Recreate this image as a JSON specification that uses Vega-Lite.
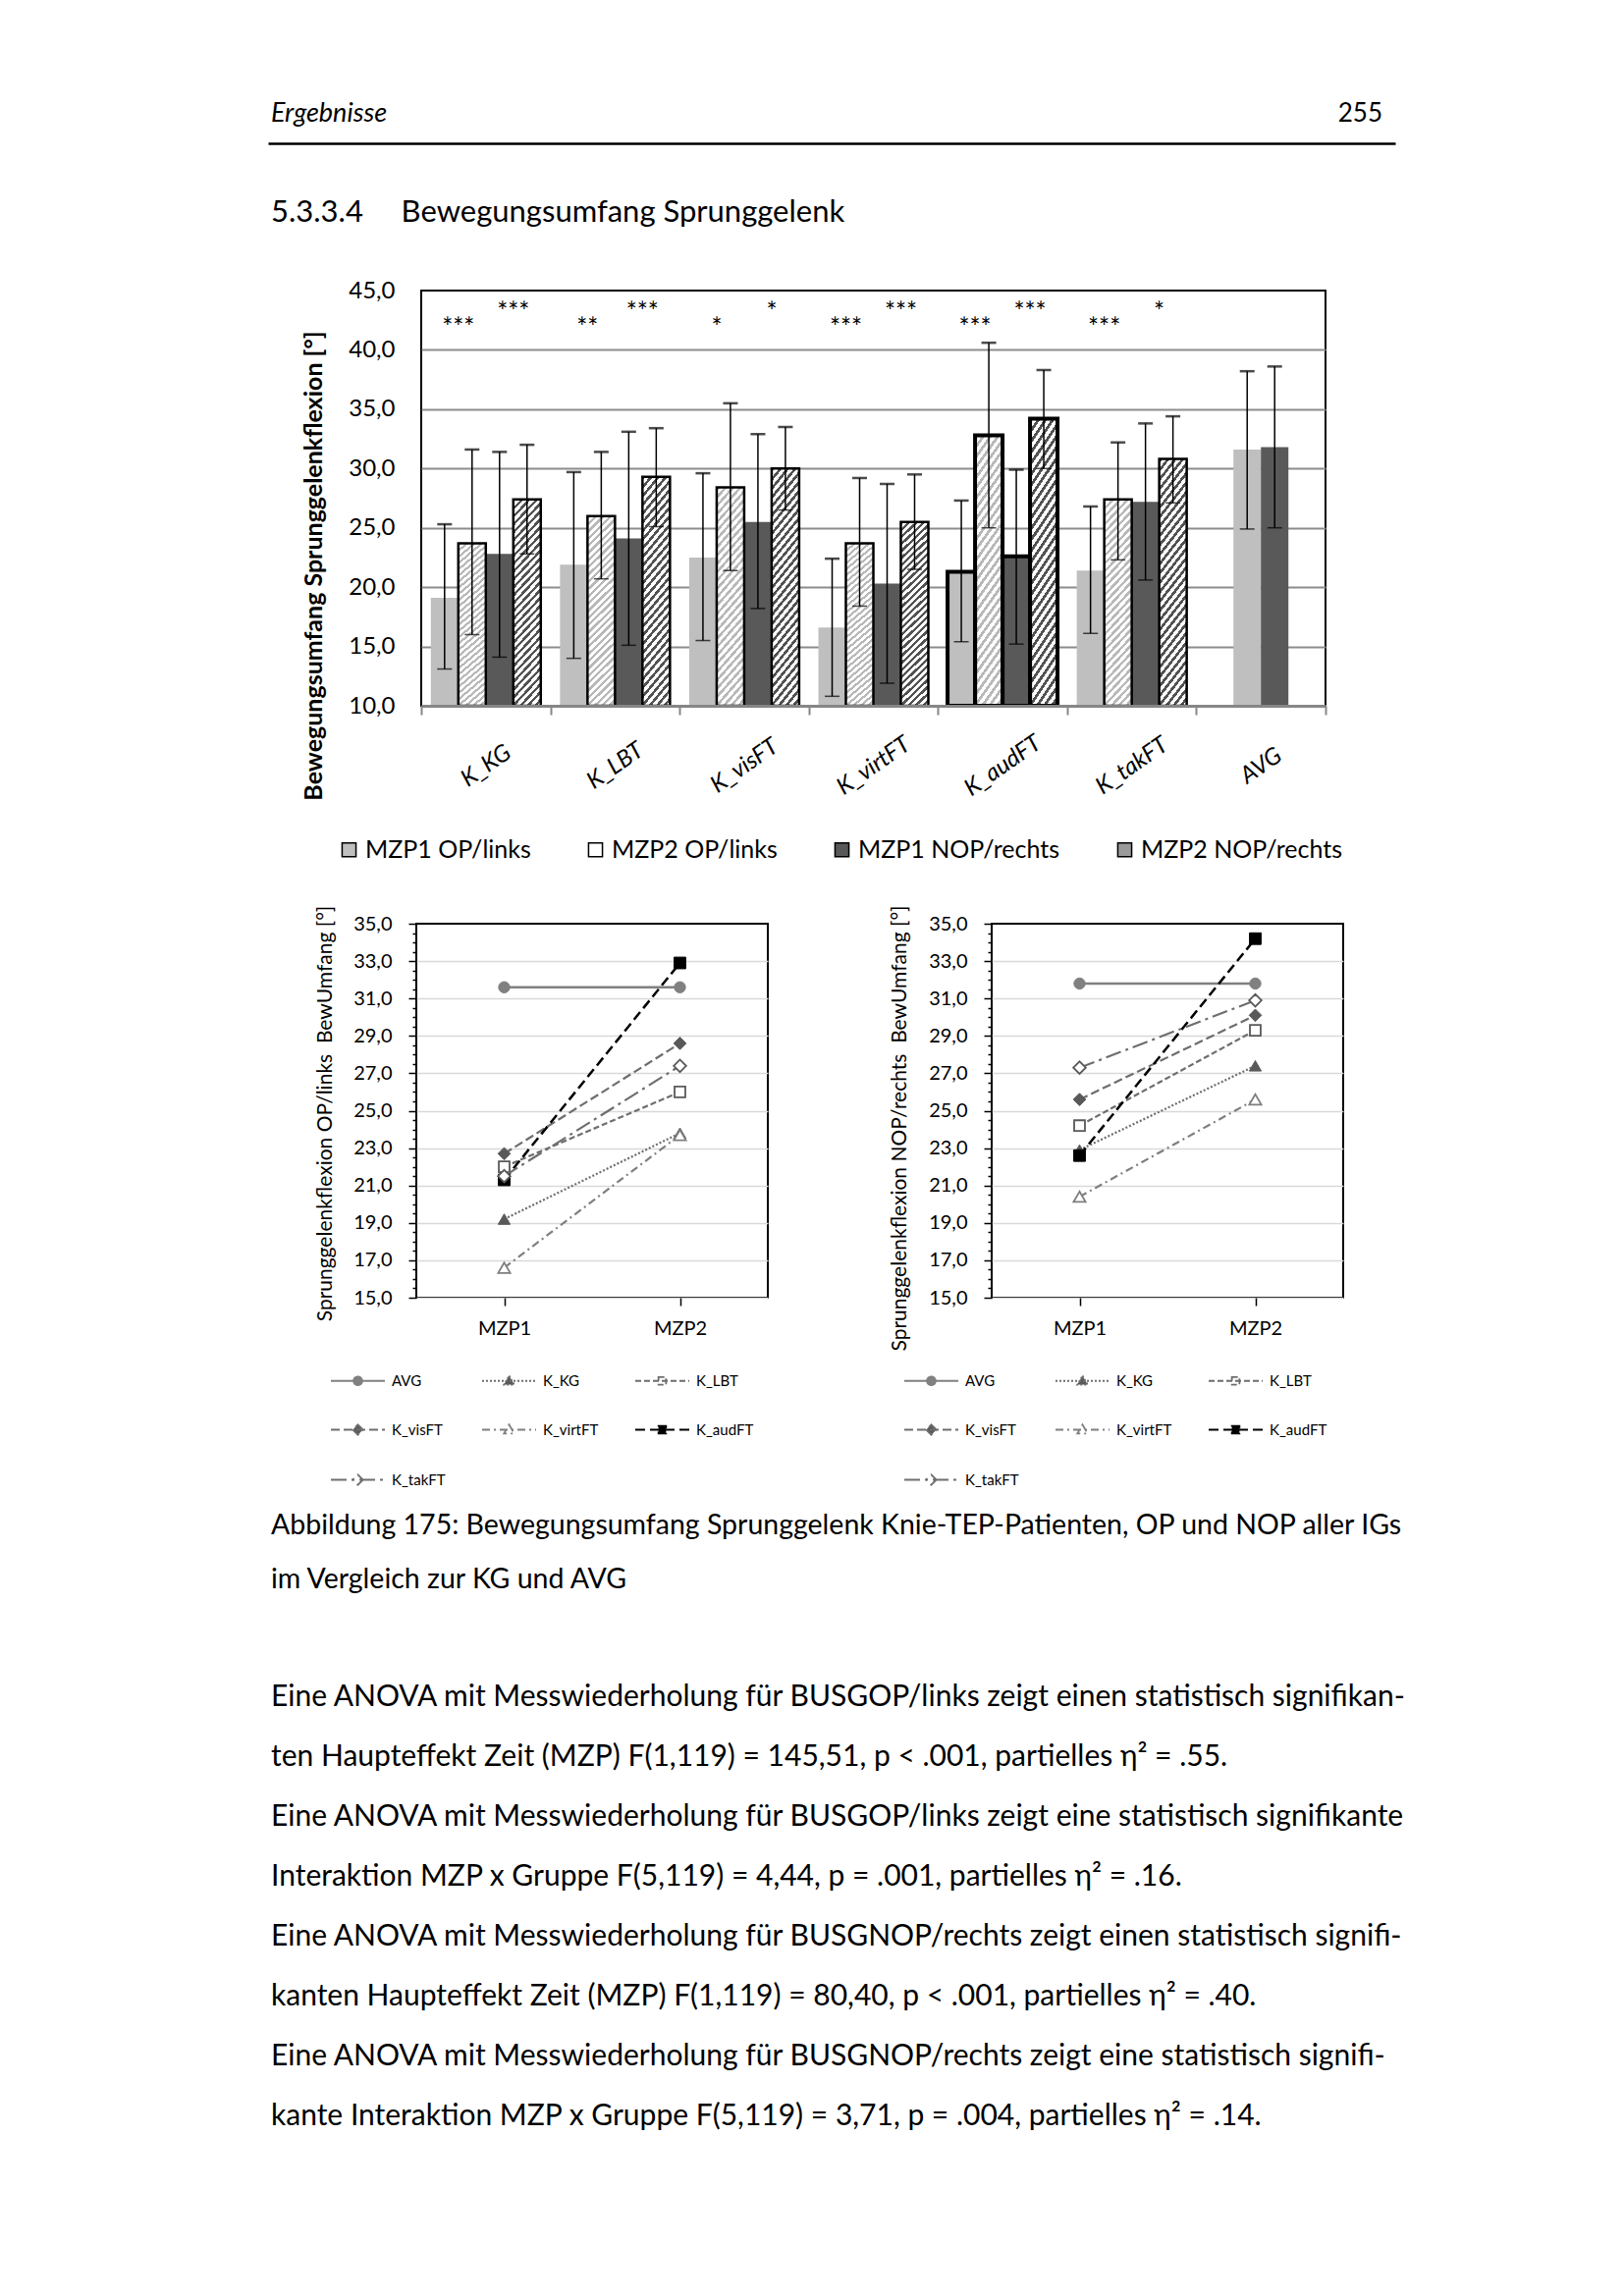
{
  "$schema": "https://vega.github.io/schema/vega-lite/v6.json",
  "background": "white",
  "padding": {"left": 273, "top": 86, "right": 10, "bottom": 10},
  "config": {
    "view": {"stroke": null},
    "font": "Lato",
    "axis": {"labelColor": "#000", "titleColor": "#000", "labelFont": "Lato", "titleFont": "Lato"},
    "legend": {"labelColor": "#000", "labelFont": "Lato", "labelLimit": 400},
    "text": {"font": "Lato", "color": "#000"}
  },
  "spacing": 0,
  "resolve": {
    "scale": {"fill": "independent", "stroke": "independent", "shape": "independent", "strokeDash": "independent", "opacity": "independent"},
    "legend": {"fill": "independent", "stroke": "independent", "shape": "independent", "strokeDash": "independent"}
  },
  "vconcat": [
    {
      "width": 1148, "height": 60,
      "data": {"values": [{"pos": "links", "text": "Ergebnisse"}, {"pos": "rechts", "text": "255"}]},
      "encoding": {
        "x": {"field": "pos", "type": "nominal", "scale": {"type": "point", "domain": ["links", "rechts"], "padding": 0},
              "axis": {"orient": "bottom", "domain": true, "domainColor": "#000", "domainWidth": 2.5, "ticks": false, "labels": false, "grid": false, "title": null}},
        "text": {"field": "text"}
      },
      "layer": [
        {"transform": [{"filter": "datum.pos === 'links'"}], "mark": {"type": "text", "align": "left", "dx": 3, "fontSize": 27, "fontStyle": "italic"}},
        {"transform": [{"filter": "datum.pos === 'rechts'"}], "mark": {"type": "text", "align": "right", "dx": -13, "fontSize": 26}}
      ]
    },
    {
      "width": 1148, "height": 137,
      "data": {"values": [{"text": "5.3.3.4\u2003\u2002Bewegungsumfang Sprunggelenk"}]},
      "mark": {"type": "text", "align": "left", "dx": 3, "dy": 2, "fontSize": 31},
      "encoding": {
        "x": {"datum": 0, "type": "quantitative", "scale": {"domain": [0, 1]}, "axis": null},
        "text": {"field": "text"}
      }
    },
    {
      "spacing": 0,
      "bounds": "flush",
      "resolve": {
        "scale": {"fill": "independent", "stroke": "independent", "opacity": "independent"},
        "legend": {"fill": "independent", "stroke": "independent"}
      },
      "hconcat": [
        {"width": 156, "height": 624, "data": {"values": []}, "mark": "text"},
        {
          "width": 921, "height": 423,
          "view": {"stroke": "#000", "strokeWidth": 2},
          "encoding": {
            "x": {"field": "gruppe", "type": "nominal", "sort": null,
                  "scale": {"domain": ["K_KG", "K_LBT", "K_visFT", "K_virtFT", "K_audFT", "K_takFT", "AVG"], "paddingInner": 0, "paddingOuter": 0},
                  "axis": {"orient": "bottom", "tickBand": "extent", "ticks": true, "tickSize": 9, "tickColor": "#868686", "tickWidth": 2,
                           "domain": true, "domainColor": "#868686", "domainWidth": 3, "labelAngle": -35, "labelAlign": "center", "labelBaseline": "middle",
                           "labelPadding": 52, "labelFontSize": 24, "labelFontStyle": "italic", "title": null, "grid": false, "zindex": 1}},
            "xOffset": {"field": "slot", "type": "nominal", "scale": {"domain": ["1", "2", "3", "4"], "paddingInner": 0, "paddingOuter": 0.35}}
          },
          "layer": [
            {
              "data": {"values": [
                {"gruppe": "K_KG", "reihe": "MZP1 OP/links", "slot": "1", "mw": 19.1, "lo": 13.1, "hi": 25.3},
                {"gruppe": "K_KG", "reihe": "MZP2 OP/links", "slot": "2", "mw": 23.7, "lo": 16.0, "hi": 31.6},
                {"gruppe": "K_KG", "reihe": "MZP1 NOP/rechts", "slot": "3", "mw": 22.8, "lo": 14.1, "hi": 31.4},
                {"gruppe": "K_KG", "reihe": "MZP2 NOP/rechts", "slot": "4", "mw": 27.4, "lo": 22.8, "hi": 32.0},
                {"gruppe": "K_LBT", "reihe": "MZP1 OP/links", "slot": "1", "mw": 21.9, "lo": 14.0, "hi": 29.7},
                {"gruppe": "K_LBT", "reihe": "MZP2 OP/links", "slot": "2", "mw": 26.0, "lo": 20.7, "hi": 31.4},
                {"gruppe": "K_LBT", "reihe": "MZP1 NOP/rechts", "slot": "3", "mw": 24.1, "lo": 15.1, "hi": 33.1},
                {"gruppe": "K_LBT", "reihe": "MZP2 NOP/rechts", "slot": "4", "mw": 29.3, "lo": 25.1, "hi": 33.4},
                {"gruppe": "K_visFT", "reihe": "MZP1 OP/links", "slot": "1", "mw": 22.5, "lo": 15.5, "hi": 29.6},
                {"gruppe": "K_visFT", "reihe": "MZP2 OP/links", "slot": "2", "mw": 28.4, "lo": 21.4, "hi": 35.5},
                {"gruppe": "K_visFT", "reihe": "MZP1 NOP/rechts", "slot": "3", "mw": 25.5, "lo": 18.2, "hi": 32.9},
                {"gruppe": "K_visFT", "reihe": "MZP2 NOP/rechts", "slot": "4", "mw": 30.0, "lo": 26.5, "hi": 33.5},
                {"gruppe": "K_virtFT", "reihe": "MZP1 OP/links", "slot": "1", "mw": 16.6, "lo": 10.8, "hi": 22.4},
                {"gruppe": "K_virtFT", "reihe": "MZP2 OP/links", "slot": "2", "mw": 23.7, "lo": 18.4, "hi": 29.2},
                {"gruppe": "K_virtFT", "reihe": "MZP1 NOP/rechts", "slot": "3", "mw": 20.3, "lo": 11.9, "hi": 28.7},
                {"gruppe": "K_virtFT", "reihe": "MZP2 NOP/rechts", "slot": "4", "mw": 25.5, "lo": 21.5, "hi": 29.5},
                {"gruppe": "K_audFT", "reihe": "MZP1 OP/links", "slot": "1", "mw": 21.3, "lo": 15.4, "hi": 27.3},
                {"gruppe": "K_audFT", "reihe": "MZP2 OP/links", "slot": "2", "mw": 32.8, "lo": 25.0, "hi": 40.6},
                {"gruppe": "K_audFT", "reihe": "MZP1 NOP/rechts", "slot": "3", "mw": 22.6, "lo": 15.2, "hi": 29.9},
                {"gruppe": "K_audFT", "reihe": "MZP2 NOP/rechts", "slot": "4", "mw": 34.2, "lo": 30.0, "hi": 38.3},
                {"gruppe": "K_takFT", "reihe": "MZP1 OP/links", "slot": "1", "mw": 21.4, "lo": 16.1, "hi": 26.8},
                {"gruppe": "K_takFT", "reihe": "MZP2 OP/links", "slot": "2", "mw": 27.4, "lo": 22.3, "hi": 32.2},
                {"gruppe": "K_takFT", "reihe": "MZP1 NOP/rechts", "slot": "3", "mw": 27.2, "lo": 20.6, "hi": 33.8},
                {"gruppe": "K_takFT", "reihe": "MZP2 NOP/rechts", "slot": "4", "mw": 30.8, "lo": 27.1, "hi": 34.4},
                {"gruppe": "AVG", "reihe": "MZP1 OP/links", "slot": "2", "mw": 31.6, "lo": 24.9, "hi": 38.2},
                {"gruppe": "AVG", "reihe": "MZP1 NOP/rechts", "slot": "3", "mw": 31.8, "lo": 25.0, "hi": 38.6}
              ]},
              "encoding": {
                "y": {"field": "mw", "type": "quantitative", "scale": {"domain": [10, 45], "nice": false, "zero": false},
                      "axis": {"values": [10, 15, 20, 25, 30, 35, 40, 45], "labelExpr": "replace(format(datum.value, '.1f'), '.', ',')",
                               "grid": true, "gridColor": "#8c8c8c", "gridWidth": 2,
                               "gridOpacity": {"condition": {"test": "datum.value === 45", "value": 0}, "value": 1},
                               "domain": false, "ticks": false, "labelFontSize": 24, "labelPadding": 27, "labelOverlap": false,
                               "title": "Bewegungsumfang Sprunggelenkflexion [°]", "titleFontSize": 25, "titleFontWeight": "bold",
                               "titleX": -110, "titleY": 280, "titleAngle": -90, "titleBaseline": "middle", "titleAlign": "center"}}
              },
              "layer": [
                {
                  "mark": {"type": "bar"},
                  "encoding": {
                    "y2": {"datum": 10},
                    "fill": {"field": "reihe", "type": "nominal",
                             "scale": {"domain": ["MZP1 OP/links", "MZP2 OP/links", "MZP1 NOP/rechts", "MZP2 NOP/rechts"], "range": ["#bfbfbf", "#ffffff", "#595959", "#9a9a9a"]},
                             "legend": {"orient": "none", "legendX": -86, "legendY": 557, "direction": "horizontal", "columns": 4, "title": null,
                                        "symbolType": "square", "symbolSize": 200, "symbolStrokeColor": "#000", "symbolStrokeWidth": 1.5,
                                        "labelFontSize": 25, "labelOffset": 4, "columnPadding": 53, "labelLimit": 400}}
                  }
                },
                {
                  "transform": [{"filter": "indexof(datum.reihe, 'MZP2') === 0"}],
                  "mark": {"type": "bar", "fill": "#ffffff"},
                  "encoding": {"y2": {"datum": 10}}
                },
                {
                  "transform": [{"filter": "indexof(datum.reihe, 'MZP2') === 0"}],
                  "mark": {"type": "bar", "fill": {"gradient": "linear", "x1": 0, "y1": 0, "x2": 0.16, "y2": 1.12, "stops": [
                    {"offset": 0, "color": "#000"}, {"offset": 0.015, "color": "#000"}, {"offset": 0.015, "color": "#fff"}, {"offset": 0.0333, "color": "#fff"},
                    {"offset": 0.0333, "color": "#000"}, {"offset": 0.0483, "color": "#000"}, {"offset": 0.0483, "color": "#fff"}, {"offset": 0.0667, "color": "#fff"},
                    {"offset": 0.0667, "color": "#000"}, {"offset": 0.0817, "color": "#000"}, {"offset": 0.0817, "color": "#fff"}, {"offset": 0.1, "color": "#fff"},
                    {"offset": 0.1, "color": "#000"}, {"offset": 0.115, "color": "#000"}, {"offset": 0.115, "color": "#fff"}, {"offset": 0.1333, "color": "#fff"},
                    {"offset": 0.1333, "color": "#000"}, {"offset": 0.1483, "color": "#000"}, {"offset": 0.1483, "color": "#fff"}, {"offset": 0.1667, "color": "#fff"},
                    {"offset": 0.1667, "color": "#000"}, {"offset": 0.1817, "color": "#000"}, {"offset": 0.1817, "color": "#fff"}, {"offset": 0.2, "color": "#fff"},
                    {"offset": 0.2, "color": "#000"}, {"offset": 0.215, "color": "#000"}, {"offset": 0.215, "color": "#fff"}, {"offset": 0.2333, "color": "#fff"},
                    {"offset": 0.2333, "color": "#000"}, {"offset": 0.2483, "color": "#000"}, {"offset": 0.2483, "color": "#fff"}, {"offset": 0.2667, "color": "#fff"},
                    {"offset": 0.2667, "color": "#000"}, {"offset": 0.2817, "color": "#000"}, {"offset": 0.2817, "color": "#fff"}, {"offset": 0.3, "color": "#fff"},
                    {"offset": 0.3, "color": "#000"}, {"offset": 0.315, "color": "#000"}, {"offset": 0.315, "color": "#fff"}, {"offset": 0.3333, "color": "#fff"},
                    {"offset": 0.3333, "color": "#000"}, {"offset": 0.3483, "color": "#000"}, {"offset": 0.3483, "color": "#fff"}, {"offset": 0.3667, "color": "#fff"},
                    {"offset": 0.3667, "color": "#000"}, {"offset": 0.3817, "color": "#000"}, {"offset": 0.3817, "color": "#fff"}, {"offset": 0.4, "color": "#fff"},
                    {"offset": 0.4, "color": "#000"}, {"offset": 0.415, "color": "#000"}, {"offset": 0.415, "color": "#fff"}, {"offset": 0.4333, "color": "#fff"},
                    {"offset": 0.4333, "color": "#000"}, {"offset": 0.4483, "color": "#000"}, {"offset": 0.4483, "color": "#fff"}, {"offset": 0.4667, "color": "#fff"},
                    {"offset": 0.4667, "color": "#000"}, {"offset": 0.4817, "color": "#000"}, {"offset": 0.4817, "color": "#fff"}, {"offset": 0.5, "color": "#fff"},
                    {"offset": 0.5, "color": "#000"}, {"offset": 0.515, "color": "#000"}, {"offset": 0.515, "color": "#fff"}, {"offset": 0.5333, "color": "#fff"},
                    {"offset": 0.5333, "color": "#000"}, {"offset": 0.5483, "color": "#000"}, {"offset": 0.5483, "color": "#fff"}, {"offset": 0.5667, "color": "#fff"},
                    {"offset": 0.5667, "color": "#000"}, {"offset": 0.5817, "color": "#000"}, {"offset": 0.5817, "color": "#fff"}, {"offset": 0.6, "color": "#fff"},
                    {"offset": 0.6, "color": "#000"}, {"offset": 0.615, "color": "#000"}, {"offset": 0.615, "color": "#fff"}, {"offset": 0.6333, "color": "#fff"},
                    {"offset": 0.6333, "color": "#000"}, {"offset": 0.6483, "color": "#000"}, {"offset": 0.6483, "color": "#fff"}, {"offset": 0.6667, "color": "#fff"},
                    {"offset": 0.6667, "color": "#000"}, {"offset": 0.6817, "color": "#000"}, {"offset": 0.6817, "color": "#fff"}, {"offset": 0.7, "color": "#fff"},
                    {"offset": 0.7, "color": "#000"}, {"offset": 0.715, "color": "#000"}, {"offset": 0.715, "color": "#fff"}, {"offset": 0.7333, "color": "#fff"},
                    {"offset": 0.7333, "color": "#000"}, {"offset": 0.7483, "color": "#000"}, {"offset": 0.7483, "color": "#fff"}, {"offset": 0.7667, "color": "#fff"},
                    {"offset": 0.7667, "color": "#000"}, {"offset": 0.7817, "color": "#000"}, {"offset": 0.7817, "color": "#fff"}, {"offset": 0.8, "color": "#fff"},
                    {"offset": 0.8, "color": "#000"}, {"offset": 0.815, "color": "#000"}, {"offset": 0.815, "color": "#fff"}, {"offset": 0.8333, "color": "#fff"},
                    {"offset": 0.8333, "color": "#000"}, {"offset": 0.8483, "color": "#000"}, {"offset": 0.8483, "color": "#fff"}, {"offset": 0.8667, "color": "#fff"},
                    {"offset": 0.8667, "color": "#000"}, {"offset": 0.8817, "color": "#000"}, {"offset": 0.8817, "color": "#fff"}, {"offset": 0.9, "color": "#fff"},
                    {"offset": 0.9, "color": "#000"}, {"offset": 0.915, "color": "#000"}, {"offset": 0.915, "color": "#fff"}, {"offset": 0.9333, "color": "#fff"},
                    {"offset": 0.9333, "color": "#000"}, {"offset": 0.9483, "color": "#000"}, {"offset": 0.9483, "color": "#fff"}, {"offset": 0.9667, "color": "#fff"},
                    {"offset": 0.9667, "color": "#000"}, {"offset": 0.9817, "color": "#000"}, {"offset": 0.9817, "color": "#fff"}, {"offset": 1, "color": "#fff"}
                  ]}},
                  "encoding": {
                    "y2": {"datum": 10},
                    "opacity": {"condition": {"test": "datum.reihe === 'MZP2 OP/links'", "value": 0.28}, "value": 0.68}
                  }
                },
                {
                  "mark": {"type": "bar", "fillOpacity": 0},
                  "encoding": {
                    "y2": {"datum": 10},
                    "stroke": {"condition": {"test": "datum.gruppe === 'K_audFT' || indexof(datum.reihe, 'MZP2') === 0", "value": "#000000"}, "value": "transparent"},
                    "strokeWidth": {"condition": {"test": "datum.gruppe === 'K_audFT'", "value": 4}, "value": 2.5}
                  }
                },
                {
                  "mark": {"type": "rule", "color": "#000", "strokeWidth": 1.5},
                  "encoding": {"y": {"field": "lo", "type": "quantitative"}, "y2": {"field": "hi"}}
                },
                {
                  "mark": {"type": "tick", "orient": "horizontal", "size": 15, "thickness": 2.5, "color": "#000"},
                  "encoding": {"y": {"field": "hi", "type": "quantitative"}}
                },
                {
                  "mark": {"type": "tick", "orient": "horizontal", "size": 15, "thickness": 1.5, "color": "#000"},
                  "encoding": {"y": {"field": "lo", "type": "quantitative"}}
                }
              ]
            },
            {
              "data": {"values": [
                {"gruppe": "K_KG", "slot": "2", "seite": "OP", "sig": "***"},
                {"gruppe": "K_KG", "slot": "4", "seite": "NOP", "sig": "***"},
                {"gruppe": "K_LBT", "slot": "2", "seite": "OP", "sig": "**"},
                {"gruppe": "K_LBT", "slot": "4", "seite": "NOP", "sig": "***"},
                {"gruppe": "K_visFT", "slot": "2", "seite": "OP", "sig": "*"},
                {"gruppe": "K_visFT", "slot": "4", "seite": "NOP", "sig": "*"},
                {"gruppe": "K_virtFT", "slot": "2", "seite": "OP", "sig": "***"},
                {"gruppe": "K_virtFT", "slot": "4", "seite": "NOP", "sig": "***"},
                {"gruppe": "K_audFT", "slot": "2", "seite": "OP", "sig": "***"},
                {"gruppe": "K_audFT", "slot": "4", "seite": "NOP", "sig": "***"},
                {"gruppe": "K_takFT", "slot": "2", "seite": "OP", "sig": "***"},
                {"gruppe": "K_takFT", "slot": "4", "seite": "NOP", "sig": "*"}
              ]},
              "transform": [{"filter": "datum.seite === 'OP'"}],
              "mark": {"type": "text", "fontSize": 26, "dx": -14, "dy": 5},
              "encoding": {"y": {"datum": 42.2, "type": "quantitative"}, "text": {"field": "sig"}}
            },
            {
              "data": {"values": [
                {"gruppe": "K_KG", "slot": "2", "seite": "OP", "sig": "***"},
                {"gruppe": "K_KG", "slot": "4", "seite": "NOP", "sig": "***"},
                {"gruppe": "K_LBT", "slot": "2", "seite": "OP", "sig": "**"},
                {"gruppe": "K_LBT", "slot": "4", "seite": "NOP", "sig": "***"},
                {"gruppe": "K_visFT", "slot": "2", "seite": "OP", "sig": "*"},
                {"gruppe": "K_visFT", "slot": "4", "seite": "NOP", "sig": "*"},
                {"gruppe": "K_virtFT", "slot": "2", "seite": "OP", "sig": "***"},
                {"gruppe": "K_virtFT", "slot": "4", "seite": "NOP", "sig": "***"},
                {"gruppe": "K_audFT", "slot": "2", "seite": "OP", "sig": "***"},
                {"gruppe": "K_audFT", "slot": "4", "seite": "NOP", "sig": "***"},
                {"gruppe": "K_takFT", "slot": "2", "seite": "OP", "sig": "***"},
                {"gruppe": "K_takFT", "slot": "4", "seite": "NOP", "sig": "*"}
              ]},
              "transform": [{"filter": "datum.seite === 'NOP'"}],
              "mark": {"type": "text", "fontSize": 26, "dx": -14, "dy": 5},
              "encoding": {"y": {"datum": 43.5, "type": "quantitative"}, "text": {"field": "sig"}}
            }
          ]
        }
      ]
    },
    {
      "spacing": 0,
      "bounds": "flush",
      "resolve": {
        "scale": {"fill": "independent", "stroke": "independent", "shape": "independent", "strokeDash": "independent"},
        "legend": {"fill": "independent", "stroke": "independent", "shape": "independent", "strokeDash": "independent"}
      },
      "hconcat": [
        {"width": 151, "height": 585, "data": {"values": []}, "mark": "text"},
        {
          "width": 358, "height": 381,
          "view": {"stroke": "#000", "strokeWidth": 2},
          "data": {"values": [
            {"gruppe": "AVG", "mzp": "MZP1", "wert": 31.6}, {"gruppe": "AVG", "mzp": "MZP2", "wert": 31.6},
            {"gruppe": "K_KG", "mzp": "MZP1", "wert": 19.2}, {"gruppe": "K_KG", "mzp": "MZP2", "wert": 23.8},
            {"gruppe": "K_LBT", "mzp": "MZP1", "wert": 22.0}, {"gruppe": "K_LBT", "mzp": "MZP2", "wert": 26.0},
            {"gruppe": "K_visFT", "mzp": "MZP1", "wert": 22.7}, {"gruppe": "K_visFT", "mzp": "MZP2", "wert": 28.6},
            {"gruppe": "K_virtFT", "mzp": "MZP1", "wert": 16.6}, {"gruppe": "K_virtFT", "mzp": "MZP2", "wert": 23.7},
            {"gruppe": "K_audFT", "mzp": "MZP1", "wert": 21.3}, {"gruppe": "K_audFT", "mzp": "MZP2", "wert": 32.9},
            {"gruppe": "K_takFT", "mzp": "MZP1", "wert": 21.5}, {"gruppe": "K_takFT", "mzp": "MZP2", "wert": 27.4}
          ]},
          "encoding": {
            "x": {"field": "mzp", "type": "ordinal", "scale": {"type": "point", "domain": ["MZP1", "MZP2"], "padding": 0.5},
                  "axis": {"labelAngle": 0, "labelFontSize": 20, "ticks": true, "tickSize": 8, "tickColor": "#000", "tickWidth": 1.5, "domain": false, "labelPadding": 13, "title": null, "grid": false}},
            "y": {"field": "wert", "type": "quantitative", "scale": {"domain": [15, 35], "nice": false, "zero": false},
                  "axis": {"values": [15, 15.5, 16, 16.5, 17, 17.5, 18, 18.5, 19, 19.5, 20, 20.5, 21, 21.5, 22, 22.5, 23, 23.5, 24, 24.5, 25, 25.5, 26, 26.5, 27, 27.5, 28, 28.5, 29, 29.5, 30, 30.5, 31, 31.5, 32, 32.5, 33, 33.5, 34, 34.5, 35],
                           "labelExpr": "datum.value % 2 === 1 ? replace(format(datum.value, '.1f'), '.', ',') : ''",
                           "labelOverlap": false, "labelFontSize": 20, "labelPadding": 17,
                           "tickSize": {"condition": {"test": "datum.value % 2 === 1", "value": 8}, "value": 4},
                           "tickColor": "#000", "tickWidth": 1.5, "domain": false,
                           "grid": true, "gridColor": "#d9d9d9", "gridWidth": 1.5,
                           "gridOpacity": {"condition": {"test": "datum.value % 2 === 1 && datum.value < 35", "value": 1}, "value": 0},
                           "title": "Sprunggelenkflexion OP/links\u00a0 BewUmfang [°]", "titleFontSize": 21, "titleFontWeight": "normal",
                           "titleX": -93, "titleY": 193, "titleAngle": -90, "titleBaseline": "middle", "titleAlign": "center"}}
          },
          "layer": [
            {"transform": [{"filter": "datum.gruppe === 'AVG'"}], "mark": {"type": "line", "stroke": "#808080", "strokeWidth": 2.4, "point": {"shape": "circle", "filled": true, "fill": "#808080", "stroke": "#808080", "strokeWidth": 1, "size": 130, "opacity": 1}}},
            {"transform": [{"filter": "datum.gruppe === 'K_KG'"}], "mark": {"type": "line", "stroke": "#6e6e6e", "strokeWidth": 2.2, "strokeDash": [2, 2], "point": {"shape": "triangle-up", "filled": true, "fill": "#595959", "stroke": "#595959", "strokeWidth": 1, "size": 150, "opacity": 1}}},
            {"transform": [{"filter": "datum.gruppe === 'K_LBT'"}], "mark": {"type": "line", "stroke": "#6e6e6e", "strokeWidth": 2.2, "strokeDash": [6, 3], "point": {"shape": "square", "filled": true, "fill": "#ffffff", "stroke": "#595959", "strokeWidth": 1.8, "size": 120, "opacity": 1}}},
            {"transform": [{"filter": "datum.gruppe === 'K_visFT'"}], "mark": {"type": "line", "stroke": "#6e6e6e", "strokeWidth": 2.2, "strokeDash": [9, 4], "point": {"shape": "diamond", "filled": true, "fill": "#595959", "stroke": "#595959", "strokeWidth": 1, "size": 160, "opacity": 1}}},
            {"transform": [{"filter": "datum.gruppe === 'K_virtFT'"}], "mark": {"type": "line", "stroke": "#7f7f7f", "strokeWidth": 2.2, "strokeDash": [8, 4, 2, 4], "point": {"shape": "triangle-up", "filled": true, "fill": "#ffffff", "stroke": "#7f7f7f", "strokeWidth": 1.8, "size": 150, "opacity": 1}}},
            {"transform": [{"filter": "datum.gruppe === 'K_audFT'"}], "mark": {"type": "line", "stroke": "#000000", "strokeWidth": 2.5, "strokeDash": [10, 5], "point": {"shape": "square", "filled": true, "fill": "#000000", "stroke": "#000000", "strokeWidth": 1, "size": 140, "opacity": 1}}},
            {"transform": [{"filter": "datum.gruppe === 'K_takFT'"}], "mark": {"type": "line", "stroke": "#6e6e6e", "strokeWidth": 2.2, "strokeDash": [16, 5, 3, 5], "point": {"shape": "diamond", "filled": true, "fill": "#ffffff", "stroke": "#595959", "strokeWidth": 1.8, "size": 160, "opacity": 1}}},
            {"mark": {"type": "point", "filled": true, "opacity": 0},
             "encoding": {
               "shape": {"field": "gruppe", "type": "nominal",
                         "scale": {"domain": ["AVG", "K_KG", "K_LBT", "K_visFT", "K_virtFT", "K_audFT", "K_takFT"],
                                   "range": ["M-1,0H1M0.16,0A0.16,0.16,0,1,1,-0.16,0A0.16,0.16,0,1,1,0.16,0Z", "M-1,0H1M0,-0.19L0.19,0.14L-0.19,0.14Z", "M-1,0H1M-0.14,-0.14H0.14V0.14H-0.14Z", "M-1,0H1M0,-0.19L0.19,0L0,0.19L-0.19,0Z", "M-1,0H1M0,-0.19L0.19,0.14L-0.19,0.14Z", "M-1,0H1M-0.14,-0.14H0.14V0.14H-0.14Z", "M-1,0H1M0,-0.19L0.19,0L0,0.19L-0.19,0Z"]},
                         "legend": {"orient": "none", "legendX": -88, "legendY": 437, "direction": "horizontal", "columns": 3, "title": null, "symbolSize": 3025, "symbolStrokeWidth": 1.8, "symbolOpacity": 1, "labelFontSize": 15, "labelOffset": 6, "columnPadding": 33, "rowPadding": 13, "labelLimit": 300}},
               "fill": {"field": "gruppe", "type": "nominal",
                        "scale": {"domain": ["AVG", "K_KG", "K_LBT", "K_visFT", "K_virtFT", "K_audFT", "K_takFT"], "range": ["#808080", "#595959", "#ffffff", "#595959", "#ffffff", "#000000", "#ffffff"]},
                        "legend": {"orient": "none", "legendX": -88, "legendY": 437, "direction": "horizontal", "columns": 3, "title": null, "symbolSize": 3025, "symbolStrokeWidth": 1.8, "symbolOpacity": 1, "labelFontSize": 15, "labelOffset": 6, "columnPadding": 33, "rowPadding": 13, "labelLimit": 300}},
               "stroke": {"field": "gruppe", "type": "nominal",
                          "scale": {"domain": ["AVG", "K_KG", "K_LBT", "K_visFT", "K_virtFT", "K_audFT", "K_takFT"], "range": ["#808080", "#6e6e6e", "#6e6e6e", "#6e6e6e", "#7f7f7f", "#000000", "#6e6e6e"]},
                          "legend": {"orient": "none", "legendX": -88, "legendY": 437, "direction": "horizontal", "columns": 3, "title": null, "symbolSize": 3025, "symbolStrokeWidth": 1.8, "symbolOpacity": 1, "labelFontSize": 15, "labelOffset": 6, "columnPadding": 33, "rowPadding": 13, "labelLimit": 300}},
               "strokeDash": {"field": "gruppe", "type": "nominal",
                              "scale": {"domain": ["AVG", "K_KG", "K_LBT", "K_visFT", "K_virtFT", "K_audFT", "K_takFT"], "range": [[1, 0], [2, 2], [6, 3], [9, 4], [8, 4, 2, 4], [10, 5], [16, 5, 3, 5]]},
                              "legend": {"orient": "none", "legendX": -88, "legendY": 437, "direction": "horizontal", "columns": 3, "title": null, "symbolSize": 3025, "symbolStrokeWidth": 1.8, "symbolOpacity": 1, "labelFontSize": 15, "labelOffset": 6, "columnPadding": 33, "rowPadding": 13, "labelLimit": 300}}
             }}
          ]
        },
        {"width": 228, "height": 1, "data": {"values": []}, "mark": "text"},
        {
          "width": 358, "height": 381,
          "view": {"stroke": "#000", "strokeWidth": 2},
          "data": {"values": [
            {"gruppe": "AVG", "mzp": "MZP1", "wert": 31.8}, {"gruppe": "AVG", "mzp": "MZP2", "wert": 31.8},
            {"gruppe": "K_KG", "mzp": "MZP1", "wert": 22.9}, {"gruppe": "K_KG", "mzp": "MZP2", "wert": 27.4},
            {"gruppe": "K_LBT", "mzp": "MZP1", "wert": 24.2}, {"gruppe": "K_LBT", "mzp": "MZP2", "wert": 29.3},
            {"gruppe": "K_visFT", "mzp": "MZP1", "wert": 25.6}, {"gruppe": "K_visFT", "mzp": "MZP2", "wert": 30.1},
            {"gruppe": "K_virtFT", "mzp": "MZP1", "wert": 20.4}, {"gruppe": "K_virtFT", "mzp": "MZP2", "wert": 25.6},
            {"gruppe": "K_audFT", "mzp": "MZP1", "wert": 22.6}, {"gruppe": "K_audFT", "mzp": "MZP2", "wert": 34.2},
            {"gruppe": "K_takFT", "mzp": "MZP1", "wert": 27.3}, {"gruppe": "K_takFT", "mzp": "MZP2", "wert": 30.9}
          ]},
          "encoding": {
            "x": {"field": "mzp", "type": "ordinal", "scale": {"type": "point", "domain": ["MZP1", "MZP2"], "padding": 0.5},
                  "axis": {"labelAngle": 0, "labelFontSize": 20, "ticks": true, "tickSize": 8, "tickColor": "#000", "tickWidth": 1.5, "domain": false, "labelPadding": 13, "title": null, "grid": false}},
            "y": {"field": "wert", "type": "quantitative", "scale": {"domain": [15, 35], "nice": false, "zero": false},
                  "axis": {"values": [15, 15.5, 16, 16.5, 17, 17.5, 18, 18.5, 19, 19.5, 20, 20.5, 21, 21.5, 22, 22.5, 23, 23.5, 24, 24.5, 25, 25.5, 26, 26.5, 27, 27.5, 28, 28.5, 29, 29.5, 30, 30.5, 31, 31.5, 32, 32.5, 33, 33.5, 34, 34.5, 35],
                           "labelExpr": "datum.value % 2 === 1 ? replace(format(datum.value, '.1f'), '.', ',') : ''",
                           "labelOverlap": false, "labelFontSize": 20, "labelPadding": 17,
                           "tickSize": {"condition": {"test": "datum.value % 2 === 1", "value": 8}, "value": 4},
                           "tickColor": "#000", "tickWidth": 1.5, "domain": false,
                           "grid": true, "gridColor": "#d9d9d9", "gridWidth": 1.5,
                           "gridOpacity": {"condition": {"test": "datum.value % 2 === 1 && datum.value < 35", "value": 1}, "value": 0},
                           "title": "Sprunggelenkflexion NOP/rechts\u00a0 BewUmfang [°]", "titleFontSize": 21, "titleFontWeight": "normal",
                           "titleX": -94, "titleY": 208, "titleAngle": -90, "titleBaseline": "middle", "titleAlign": "center"}}
          },
          "layer": [
            {"transform": [{"filter": "datum.gruppe === 'AVG'"}], "mark": {"type": "line", "stroke": "#808080", "strokeWidth": 2.4, "point": {"shape": "circle", "filled": true, "fill": "#808080", "stroke": "#808080", "strokeWidth": 1, "size": 130, "opacity": 1}}},
            {"transform": [{"filter": "datum.gruppe === 'K_KG'"}], "mark": {"type": "line", "stroke": "#6e6e6e", "strokeWidth": 2.2, "strokeDash": [2, 2], "point": {"shape": "triangle-up", "filled": true, "fill": "#595959", "stroke": "#595959", "strokeWidth": 1, "size": 150, "opacity": 1}}},
            {"transform": [{"filter": "datum.gruppe === 'K_LBT'"}], "mark": {"type": "line", "stroke": "#6e6e6e", "strokeWidth": 2.2, "strokeDash": [6, 3], "point": {"shape": "square", "filled": true, "fill": "#ffffff", "stroke": "#595959", "strokeWidth": 1.8, "size": 120, "opacity": 1}}},
            {"transform": [{"filter": "datum.gruppe === 'K_visFT'"}], "mark": {"type": "line", "stroke": "#6e6e6e", "strokeWidth": 2.2, "strokeDash": [9, 4], "point": {"shape": "diamond", "filled": true, "fill": "#595959", "stroke": "#595959", "strokeWidth": 1, "size": 160, "opacity": 1}}},
            {"transform": [{"filter": "datum.gruppe === 'K_virtFT'"}], "mark": {"type": "line", "stroke": "#7f7f7f", "strokeWidth": 2.2, "strokeDash": [8, 4, 2, 4], "point": {"shape": "triangle-up", "filled": true, "fill": "#ffffff", "stroke": "#7f7f7f", "strokeWidth": 1.8, "size": 150, "opacity": 1}}},
            {"transform": [{"filter": "datum.gruppe === 'K_audFT'"}], "mark": {"type": "line", "stroke": "#000000", "strokeWidth": 2.5, "strokeDash": [10, 5], "point": {"shape": "square", "filled": true, "fill": "#000000", "stroke": "#000000", "strokeWidth": 1, "size": 140, "opacity": 1}}},
            {"transform": [{"filter": "datum.gruppe === 'K_takFT'"}], "mark": {"type": "line", "stroke": "#6e6e6e", "strokeWidth": 2.2, "strokeDash": [16, 5, 3, 5], "point": {"shape": "diamond", "filled": true, "fill": "#ffffff", "stroke": "#595959", "strokeWidth": 1.8, "size": 160, "opacity": 1}}},
            {"mark": {"type": "point", "filled": true, "opacity": 0},
             "encoding": {
               "shape": {"field": "gruppe", "type": "nominal",
                         "scale": {"domain": ["AVG", "K_KG", "K_LBT", "K_visFT", "K_virtFT", "K_audFT", "K_takFT"],
                                   "range": ["M-1,0H1M0.16,0A0.16,0.16,0,1,1,-0.16,0A0.16,0.16,0,1,1,0.16,0Z", "M-1,0H1M0,-0.19L0.19,0.14L-0.19,0.14Z", "M-1,0H1M-0.14,-0.14H0.14V0.14H-0.14Z", "M-1,0H1M0,-0.19L0.19,0L0,0.19L-0.19,0Z", "M-1,0H1M0,-0.19L0.19,0.14L-0.19,0.14Z", "M-1,0H1M-0.14,-0.14H0.14V0.14H-0.14Z", "M-1,0H1M0,-0.19L0.19,0L0,0.19L-0.19,0Z"]},
                         "legend": {"orient": "none", "legendX": -90, "legendY": 437, "direction": "horizontal", "columns": 3, "title": null, "symbolSize": 3025, "symbolStrokeWidth": 1.8, "symbolOpacity": 1, "labelFontSize": 15, "labelOffset": 6, "columnPadding": 33, "rowPadding": 13, "labelLimit": 300}},
               "fill": {"field": "gruppe", "type": "nominal",
                        "scale": {"domain": ["AVG", "K_KG", "K_LBT", "K_visFT", "K_virtFT", "K_audFT", "K_takFT"], "range": ["#808080", "#595959", "#ffffff", "#595959", "#ffffff", "#000000", "#ffffff"]},
                        "legend": {"orient": "none", "legendX": -90, "legendY": 437, "direction": "horizontal", "columns": 3, "title": null, "symbolSize": 3025, "symbolStrokeWidth": 1.8, "symbolOpacity": 1, "labelFontSize": 15, "labelOffset": 6, "columnPadding": 33, "rowPadding": 13, "labelLimit": 300}},
               "stroke": {"field": "gruppe", "type": "nominal",
                          "scale": {"domain": ["AVG", "K_KG", "K_LBT", "K_visFT", "K_virtFT", "K_audFT", "K_takFT"], "range": ["#808080", "#6e6e6e", "#6e6e6e", "#6e6e6e", "#7f7f7f", "#000000", "#6e6e6e"]},
                          "legend": {"orient": "none", "legendX": -90, "legendY": 437, "direction": "horizontal", "columns": 3, "title": null, "symbolSize": 3025, "symbolStrokeWidth": 1.8, "symbolOpacity": 1, "labelFontSize": 15, "labelOffset": 6, "columnPadding": 33, "rowPadding": 13, "labelLimit": 300}},
               "strokeDash": {"field": "gruppe", "type": "nominal",
                              "scale": {"domain": ["AVG", "K_KG", "K_LBT", "K_visFT", "K_virtFT", "K_audFT", "K_takFT"], "range": [[1, 0], [2, 2], [6, 3], [9, 4], [8, 4, 2, 4], [10, 5], [16, 5, 3, 5]]},
                              "legend": {"orient": "none", "legendX": -90, "legendY": 437, "direction": "horizontal", "columns": 3, "title": null, "symbolSize": 3025, "symbolStrokeWidth": 1.8, "symbolOpacity": 1, "labelFontSize": 15, "labelOffset": 6, "columnPadding": 33, "rowPadding": 13, "labelLimit": 300}}
             }}
          ]
        }
      ]
    },
    {
      "width": 1148, "height": 110,
      "data": {"values": [
        {"zeile": 1, "text": "Abbildung 175: Bewegungsumfang Sprunggelenk Knie-TEP-Patienten, OP und NOP aller IGs"},
        {"zeile": 2, "text": "im Vergleich zur KG und AVG"}
      ]},
      "mark": {"type": "text", "align": "left", "dx": 3, "fontSize": 28.5},
      "encoding": {
        "x": {"datum": 0, "type": "quantitative", "scale": {"domain": [0, 1]}, "axis": null},
        "y": {"field": "zeile", "type": "ordinal", "scale": {"type": "point", "padding": 0.5}, "axis": null},
        "text": {"field": "text"}
      }
    },
    {"width": 1, "height": 62, "data": {"values": []}, "mark": "text"},
    {
      "width": 1148, "height": 489,
      "data": {"values": [
        {"zeile": 1, "text": "Eine ANOVA mit Messwiederholung für BUSGOP/links zeigt einen statistisch signifikan-"},
        {"zeile": 2, "text": "ten Haupteffekt Zeit (MZP) F(1,119) = 145,51, p < .001, partielles η² = .55."},
        {"zeile": 3, "text": "Eine ANOVA mit Messwiederholung für BUSGOP/links zeigt eine statistisch signifikante"},
        {"zeile": 4, "text": "Interaktion MZP x Gruppe F(5,119) = 4,44, p = .001, partielles η² = .16."},
        {"zeile": 5, "text": "Eine ANOVA mit Messwiederholung für BUSGNOP/rechts zeigt einen statistisch signifi-"},
        {"zeile": 6, "text": "kanten Haupteffekt Zeit (MZP) F(1,119) = 80,40, p < .001, partielles η² = .40."},
        {"zeile": 7, "text": "Eine ANOVA mit Messwiederholung für BUSGNOP/rechts zeigt eine statistisch signifi-"},
        {"zeile": 8, "text": "kante Interaktion MZP x Gruppe F(5,119) = 3,71, p = .004, partielles η² = .14."}
      ]},
      "mark": {"type": "text", "align": "left", "dx": 3, "fontSize": 30},
      "encoding": {
        "x": {"datum": 0, "type": "quantitative", "scale": {"domain": [0, 1]}, "axis": null},
        "y": {"field": "zeile", "type": "ordinal", "scale": {"type": "point", "padding": 0.5}, "axis": null},
        "text": {"field": "text"}
      }
    }
  ]
}
